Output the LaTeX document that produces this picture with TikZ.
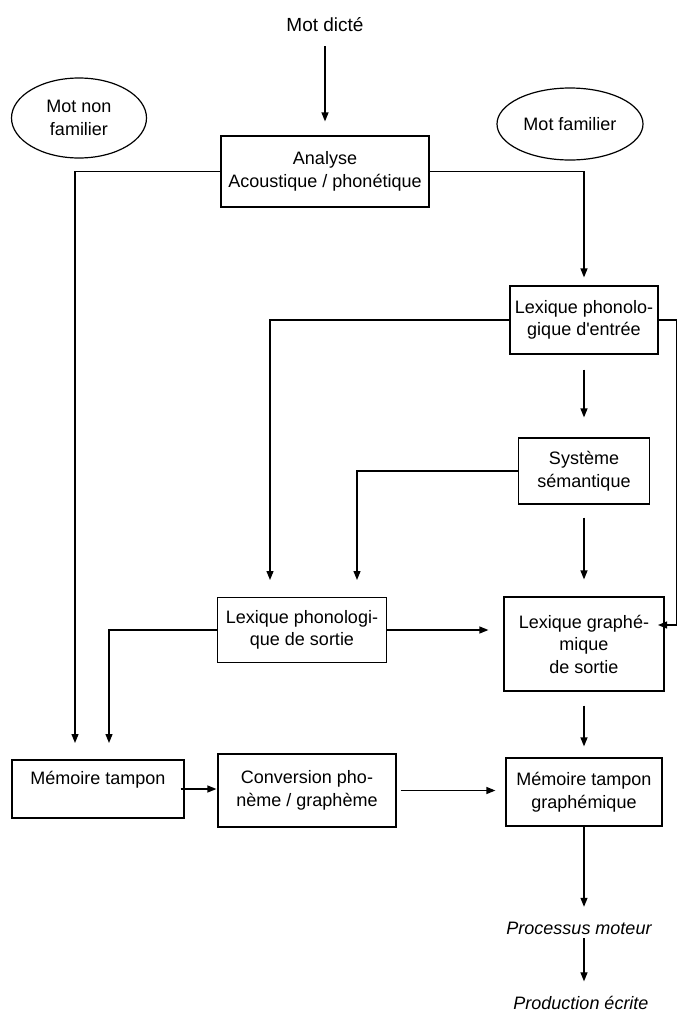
\documentclass[tikz,border=0pt]{standalone}
\usepackage{fontspec}
\setmainfont{Liberation Sans}
\usetikzlibrary{arrows.meta}
\usetikzlibrary{shapes.geometric}

\begin{document}
\begin{tikzpicture}[x=1pt,y=-1pt,line width=1.2pt,
  font=\fontsize{18}{22.5}\selectfont,
  boite/.style={draw,align=center,inner sep=0pt},
  bulle/.style={draw,ellipse,align=center,inner sep=0pt},
  fl/.style={-{Triangle[length=9pt,width=7pt]}}]
 \useasboundingbox (0,0) rectangle (677,1031);
 \node (dicte) at (325,25) {\fontsize{19}{22}\selectfont Mot dicté};
 \node[bulle,minimum width=135pt,minimum height=80pt] (nonfam) at (79,118) {Mot non\\familier};
 \node[bulle,minimum width=146pt,minimum height=72pt] (fam) at (570,124) {Mot familier};
 \node[boite,minimum width=208pt,minimum height=71pt] (ana) at (325,171.5) {Analyse\\Acoustique / phonétique};
 \node[boite,minimum width=148pt,minimum height=68pt] (lpe) at (584,320) {Lexique phonolo-\\gique d\textquotesingle entrée};
 \node[boite,minimum width=131pt,minimum height=66pt] (sys) at (584,471) {Système\\sémantique};
 \node[boite,minimum width=169pt,minimum height=65pt] (lps) at (302,630) {Lexique phonologi-\\que de sortie};
 \node[boite,minimum width=160pt,minimum height=94pt] (lgs) at (584,644) {Lexique graphé-\\mique\\de sortie};
 \node[boite,minimum width=172pt,minimum height=58pt] (mt) at (98,789) {Mémoire tampon\\~};
 \node[boite,minimum width=178pt,minimum height=73pt] (conv) at (307,790.5) {Conversion pho-\\nème / graphème};
 \node[boite,minimum width=156pt,minimum height=68pt] (mtg) at (584,792) {Mémoire tampon\\graphémique};
 \node (proc) at (579,928) {\itshape Processus moteur};
 \node (prod) at (581,1003) {\itshape Production écrite};
 \coordinate (mtin1) at (75,760);
 \coordinate (mtin2) at (109,760);
 \coordinate (lpsin1) at (270,597);
 \coordinate (lpsin2) at (357,597);
 \coordinate (lgsin) at (664,625);
 \draw[fl,shorten <=10pt,shorten >=14pt] (dicte) -- (ana);
 \draw[fl,shorten >=17pt] (ana.west) -| (mtin1);
 \draw[fl,shorten >=8pt] (ana.east) -| (lpe.north);
 \draw[fl,shorten >=17pt] (lpe.west) -| (lpsin1);
 \draw[fl,shorten >=-6pt] (lpe.east) -- ++(18,0) |- (lgsin);
 \draw[fl,shorten <=15pt,shorten >=20pt] (lpe) -- (sys);
 \draw[fl,shorten >=17pt] (sys.west) -| (lpsin2);
 \draw[fl,shorten <=13pt,shorten >=17pt] (sys) -- (lgs);
 \draw[fl,shorten >=17pt] (lps.west) -| (mtin2);
 \draw[fl,shorten >=15pt] (lps.east) -- (lps.east -| lgs.west);
 \draw[fl,shorten <=14pt,shorten >=11pt] (lgs) -- (mtg);
 \draw[fl,shorten <=-4pt,shorten >=1pt] (mt.east) -- (mt.east -| conv.west);
 \draw[fl,shorten <=4pt,shorten >=10pt] (conv.east) -- (conv.east -| mtg.west);
 \draw[fl,shorten >=11pt] (mtg.south) -- (mtg.south |- proc.north);
 \draw[fl,shorten >=11pt] (proc.south -| mtg.south) -- (prod.north -| mtg.south);
\end{tikzpicture}
\end{document}
